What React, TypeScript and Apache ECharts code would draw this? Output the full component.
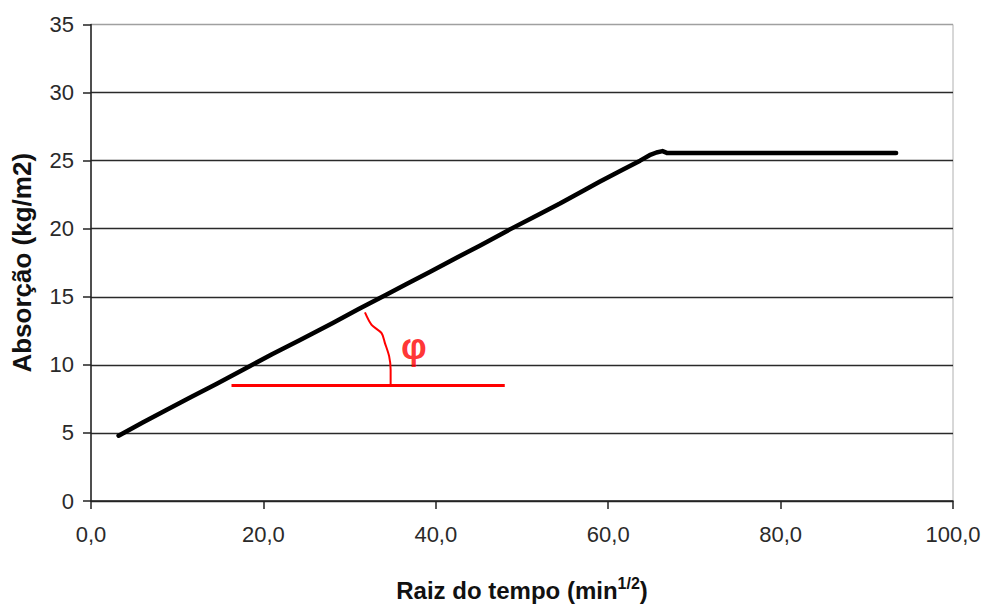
import React, { useEffect, useRef } from "react";
import * as echarts from "echarts";

// Absorption curve (x = sqrt(time) in min^1/2, y = absorption kg/m2)
const curveX = [3.2, 6.0, 8.8, 11.5, 14.6, 18.4, 21.0, 24.2, 28.0, 31.0, 34.3, 36.5, 39.3, 42.8, 45.1, 48.6, 51.5, 54.4, 57.0, 59.0, 61.5, 63.7, 64.8, 65.6, 66.3, 66.8, 80.0, 93.4];
const curveY = [4.8, 5.76, 6.7, 7.6, 8.62, 9.9, 10.78, 11.8, 13.06, 14.08, 15.17, 15.9, 16.82, 18.0, 18.75, 19.95, 20.9, 21.85, 22.75, 23.45, 24.28, 25.0, 25.4, 25.6, 25.7, 25.57, 25.57, 25.57];

// Red angle annotation (in data units)
const baseLineX = [16.3, 48.0];
const baseLineY = [8.49, 8.49];
const arcX = [31.78, 32.55, 33.71, 34.1, 34.59, 34.76, 34.76];
const arcY = [13.85, 12.94, 12.33, 11.6, 10.62, 9.64, 8.54];
const phiPos = [37.46, 11.35];

const xTicks = { min: 0, max: 100, interval: 20 };
const yTicks = { min: 0, max: 35, interval: 5 };

const FONT = "'Liberation Sans', Arial, sans-serif";

export default function App() {
  const ref = useRef<HTMLDivElement>(null);

  useEffect(() => {
    if (!ref.current) return;
    const chart = echarts.init(ref.current, undefined, { renderer: "svg" });
    const zip = (xs: number[], ys: number[]) => xs.map((x, i) => [x, ys[i]]);
    const splitColors = ["#2a2a2a", "#2a2a2a", "#2a2a2a", "#2a2a2a", "#2a2a2a", "#2a2a2a", "#2a2a2a", "#a0a0a0"];

    chart.setOption({
      animation: false,
      backgroundColor: "#ffffff",
      textStyle: { fontFamily: FONT },
      grid: {
        left: 91,
        right: 34,
        top: 24.5,
        bottom: 106.7,
        show: true,
        borderColor: "#b0b0b0",
        borderWidth: 1,
      },
      xAxis: {
        type: "value",
        min: xTicks.min,
        max: xTicks.max,
        interval: xTicks.interval,
        name: "{n|Raiz do tempo (min}{sup|1/2}{n|)}",
        nameLocation: "middle",
        nameGap: 74,
        nameTextStyle: {
          rich: {
            n: { fontFamily: FONT, fontSize: 24, fontWeight: "bold", color: "#111", lineHeight: 30 },
            sup: { fontFamily: FONT, fontSize: 16, fontWeight: "bold", color: "#111", lineHeight: 30, verticalAlign: "top", padding: [0, 0, 12, 0] },
          },
        },
        axisLine: { show: true, lineStyle: { color: "#222", width: 1.5 } },
        axisTick: { show: true, length: 8, lineStyle: { color: "#222", width: 1.5 } },
        axisLabel: {
          fontFamily: FONT,
          fontSize: 22,
          color: "#2a2a2a",
          margin: 22,
          formatter: (v: number) => v.toFixed(1).replace(".", ","),
        },
        splitLine: { show: false },
      },
      yAxis: {
        type: "value",
        min: yTicks.min,
        max: yTicks.max,
        interval: yTicks.interval,
        name: "Absorção (kg/m2)",
        nameLocation: "middle",
        nameGap: 56,
        nameTextStyle: { fontFamily: FONT, fontSize: 26, fontWeight: "bold", color: "#111" },
        axisLine: { show: true, lineStyle: { color: "#222", width: 1.5 } },
        axisTick: { show: true, length: 8, lineStyle: { color: "#222", width: 1.5 } },
        axisLabel: { fontFamily: FONT, fontSize: 22, color: "#2a2a2a", margin: 17 },
        splitLine: { show: true, lineStyle: { color: splitColors, width: 1.3 } },
      },
      series: [
        {
          type: "line",
          data: zip(curveX, curveY),
          symbol: "none",
          lineStyle: { color: "#000", width: 4.5, cap: "round", join: "round" },
          z: 5,
        },
        {
          type: "line",
          data: zip(baseLineX, baseLineY),
          symbol: "none",
          lineStyle: { color: "#ff0000", width: 3 },
          z: 4,
        },
        {
          type: "line",
          data: zip(arcX, arcY),
          symbol: "none",
          smooth: 0.3,
          lineStyle: { color: "#ff0000", width: 2 },
          z: 4,
        },
        {
          type: "scatter",
          data: [phiPos],
          symbolSize: 0,
          silent: true,
          label: {
            show: true,
            position: "inside",
            formatter: "φ",
            color: "#ff0000",
            fontFamily: FONT,
            fontSize: 36,
            fontWeight: "bold",
          },
          z: 6,
        },
      ],
    });

    return () => chart.dispose();
  }, []);

  return (
    <div
      ref={ref}
      style={{ position: "fixed", left: 0, top: 0, width: 987, height: 608 }}
    />
  );
}
